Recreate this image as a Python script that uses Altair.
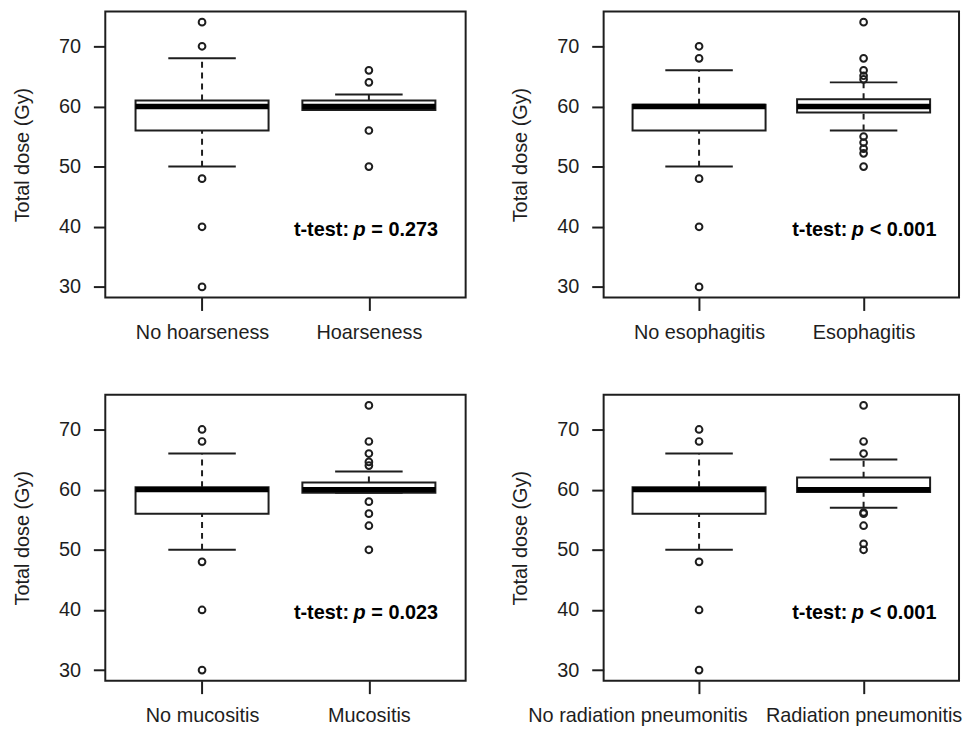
import altair as alt
import pandas as pd

# ---- data ----
p1_cats = ["No hoarseness", "Hoarseness"]
p1_q1 = [56, 59.4]; p1_med = [60, 60]; p1_q3 = [61, 61]; p1_lo = [50, 59.4]; p1_hi = [68, 62]
p1_out = [[74, 70, 48, 40, 30], [66, 64, 56, 50]]
p1_p = ["t-test:", "p", "= 0.273"]

p2_cats = ["No esophagitis", "Esophagitis"]
p2_q1 = [56, 59]; p2_med = [60, 60]; p2_q3 = [60.3, 61.2]; p2_lo = [50, 56]; p2_hi = [66, 64]
p2_out = [[70, 68, 48, 40, 30], [74, 68, 66, 65.1, 64.5, 55, 54, 53, 52.2, 50]]
p2_p = ["t-test:", "p", "< 0.001"]

p3_cats = ["No mucositis", "Mucositis"]
p3_q1 = [56, 59.5]; p3_med = [60, 60]; p3_q3 = [60.4, 61.2]; p3_lo = [50, 59.5]; p3_hi = [66, 63]
p3_out = [[70, 68, 48, 40, 30], [74, 68, 66, 64.6, 64, 58, 56, 54, 50]]
p3_p = ["t-test:", "p", "= 0.023"]

p4_cats = ["No radiation pneumonitis", "Radiation pneumonitis"]
p4_q1 = [56, 59.6]; p4_med = [60, 60]; p4_q3 = [60.4, 62]; p4_lo = [50, 57]; p4_hi = [66, 65]
p4_out = [[70, 68, 48, 40, 30], [74, 68, 66, 56.2, 56, 54, 51, 50]]
p4_p = ["t-test:", "p", "< 0.001"]

y_ticks = [30, 40, 50, 60, 70]
y_domain = [28.24, 75.76]

INK = "#1e1e1e"
FONT = "Liberation Sans"
LW = 2


def panel(cats, q1, med, q3, lo, hi, outs, ptxt, w, h, shift_label=None):
    box = pd.DataFrame(dict(cat=cats, q1=q1, med=med, q3=q3, lo=lo, hi=hi))
    out = pd.DataFrame([(c, v) for c, vs in zip(cats, outs) for v in vs], columns=["cat", "val"])
    xsc = alt.Scale(type="point", padding=0.58)
    axis_kw = dict(title=None, domain=False, tickSize=13, tickWidth=LW,
                   tickColor=INK, labelPadding=12, labelFontSize=20,
                   labelColor=INK, labelAngle=0, labelFont=FONT, labelLimit=400)
    if shift_label is not None:
        axis_kw["labelOffset"] = {"condition": {"test": "datum.label == '%s'" % shift_label[0],
                                                "value": shift_label[1]}, "value": 0}
    xenc = alt.X("cat:N", sort=cats, scale=xsc, axis=alt.Axis(**axis_kw))
    ysc = alt.Scale(domain=y_domain, nice=False, zero=False)
    yaxis = alt.Axis(title="Total dose (Gy)", values=y_ticks, domain=False, grid=False,
                     tickSize=12, tickWidth=LW, tickColor=INK, labelPadding=13,
                     labelFontSize=20, labelColor=INK, labelFont=FONT,
                     titleFontSize=20, titleFont=FONT, titleFontWeight="normal",
                     titleColor=INK, titlePadding=26)
    base = alt.Chart(box).encode(x=xenc)
    up = base.mark_rule(color=INK, strokeWidth=LW, strokeDash=[6, 5]).encode(
        y=alt.Y("q3:Q", scale=ysc, axis=yaxis), y2="hi:Q")
    dn = base.mark_rule(color=INK, strokeWidth=LW, strokeDash=[6, 5]).encode(
        y=alt.Y("lo:Q", scale=ysc), y2="q1:Q")
    caps_hi = base.mark_tick(color=INK, size=68, thickness=LW, opacity=1).encode(
        y=alt.Y("hi:Q", scale=ysc))
    caps_lo = base.mark_tick(color=INK, size=68, thickness=LW, opacity=1).encode(
        y=alt.Y("lo:Q", scale=ysc))
    rect = base.mark_bar(size=134, fill="white", stroke=INK, strokeWidth=LW).encode(
        y=alt.Y("q1:Q", scale=ysc), y2="q3:Q")
    medm = base.mark_tick(color="black", size=134, thickness=5.5, opacity=1).encode(
        y=alt.Y("med:Q", scale=ysc))
    pts = alt.Chart(out).mark_point(shape="circle", filled=False, size=46, strokeWidth=2,
                                    color=INK, opacity=1).encode(
        x=alt.X("cat:N", sort=cats, scale=xsc),
        y=alt.Y("val:Q", scale=ysc))
    tdf = pd.DataFrame({"a": [ptxt[0]], "b": [ptxt[1]], "c": [ptxt[2]]})
    tb = alt.Chart(tdf)
    ty = alt.value(h * 0.765)
    t1 = tb.mark_text(align="left", baseline="middle", fontSize=20, fontWeight="bold",
                      font=FONT, color="black").encode(text="a:N", x=alt.value(190), y=ty)
    t2 = tb.mark_text(align="left", baseline="middle", fontSize=20, fontWeight="bold",
                      fontStyle="italic", font=FONT, color="black").encode(
        text="b:N", x=alt.value(250), y=ty)
    t3 = tb.mark_text(align="left", baseline="middle", fontSize=20, fontWeight="bold",
                      font=FONT, color="black").encode(text="c:N", x=alt.value(268), y=ty)
    return alt.layer(up, dn, rect, caps_hi, caps_lo, medm, pts, t1, t2, t3).properties(
        width=w, height=h)


c1 = panel(p1_cats, p1_q1, p1_med, p1_q3, p1_lo, p1_hi, p1_out, p1_p, 363, 288)
c2 = panel(p2_cats, p2_q1, p2_med, p2_q3, p2_lo, p2_hi, p2_out, p2_p, 358, 288)
c3 = panel(p3_cats, p3_q1, p3_med, p3_q3, p3_lo, p3_hi, p3_out, p3_p, 363, 288)
c4 = panel(p4_cats, p4_q1, p4_med, p4_q3, p4_lo, p4_hi, p4_out, p4_p, 358, 288,
           shift_label=(p4_cats[0], -62))

chart = alt.vconcat(
    alt.hconcat(c1, c2, spacing=43),
    alt.hconcat(c3, c4, spacing=43),
    spacing=51,
).properties(
    padding={"left": 3, "top": 0, "right": 0, "bottom": 0},
    background="white",
).configure_view(
    stroke=INK, strokeWidth=2
)

chart.save("out.html", embed_options={"renderer": "svg", "actions": False})
